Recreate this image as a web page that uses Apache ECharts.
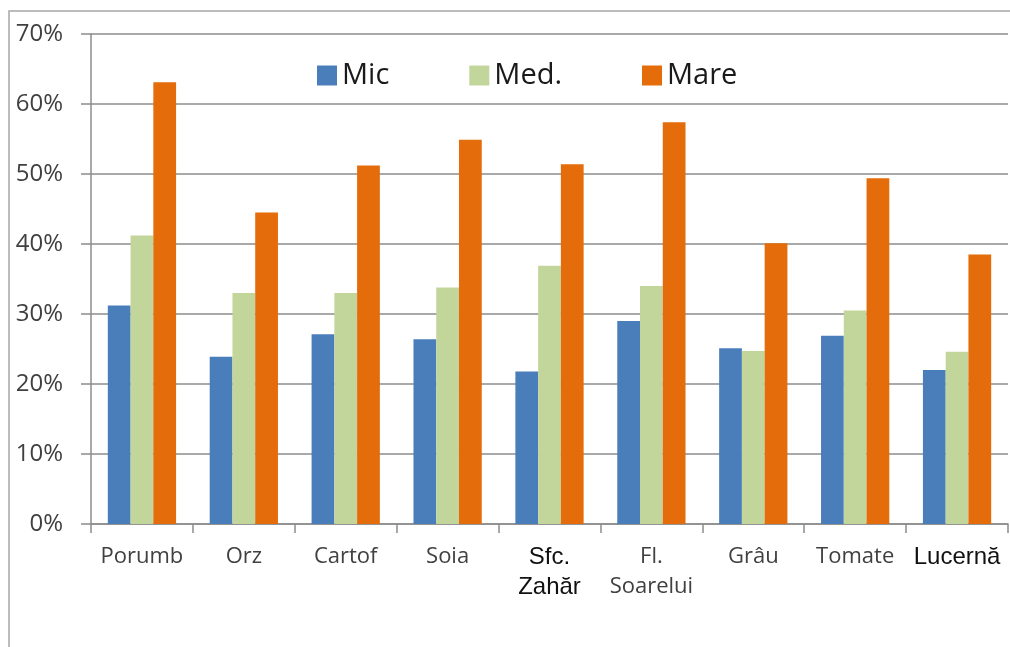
<!DOCTYPE html>
<html>
<head>
<meta charset="utf-8">
<script src="https://cdn.jsdelivr.net/npm/echarts@6/dist/echarts.min.js"></script>
<style>
  html, body { margin: 0; padding: 0; background: #fff; }
  #chart { width: 1010px; height: 647px; }
</style>
</head>
<body>
<div id="chart"></div>
<script>
// culturi
const categories = ['Porumb', 'Orz', 'Cartof', 'Soia', 'Sfc.\nZahăr', 'Fl.\nSoarelui', 'Grâu', 'Tomate', 'Lucernă']
const seriesNames = ['Mic', 'Med.', 'Mare']
// procente
const mic = [31.2, 23.9, 27.1, 26.4, 21.8, 29.0, 25.1, 26.9, 22.0]
const med = [41.2, 33.0, 33.0, 33.8, 36.9, 34.0, 24.7, 30.5, 24.6]
const mare = [63.1, 44.5, 51.2, 54.9, 51.4, 57.4, 40.1, 49.4, 38.5]
const yTicks = [0, 10, 20, 30, 40, 50, 60, 70]

const colors = ['#4a7ebb', '#c2d69b', '#e46c0a']
// etichete scrise cu alt font in original
const boldLabels = ['Sfc.\nZahăr', 'Lucernă']

const chart = echarts.init(document.getElementById('chart'))

function makeSeries(name, data, i) {
    return {
        name: name,
        type: 'bar',
        data: data,
        barGap: 0,
        barCategoryGap: '33%',
        itemStyle: { color: colors[i] }
    }
}

const option = {
    backgroundColor: '#fff',
    animation: false,
    color: colors,
    graphic: [{
        type: 'rect',
        shape: { x: 9, y: 11, width: 1020, height: 660 },
        style: { fill: 'none', stroke: '#a6a6a6', lineWidth: 1.5 },
        silent: true
    }],
    legend: {
        data: seriesNames,
        left: 312,
        top: 56,
        itemWidth: 20,
        itemHeight: 20,
        itemGap: 80,
        icon: 'rect',
        textStyle: {
            fontFamily: 'Open Sans',
            fontSize: 29,
            color: '#1a1a1a'
        }
    },
    grid: {
        left: 91,
        right: 2,
        top: 34,
        bottom: 123,
        containLabel: false
    },
    xAxis: {
        type: 'category',
        data: categories,
        axisLine: { lineStyle: { color: '#8c8c8c', width: 1.5 } },
        axisTick: { show: true, length: 9, lineStyle: { color: '#8c8c8c', width: 1.5 } },
        axisLabel: {
            margin: 18,
            interval: 0,
            fontFamily: 'Open Sans',
            fontSize: 22,
            lineHeight: 30,
            color: '#404040',
            formatter: function (v) {
                if (boldLabels.indexOf(v) >= 0) {
                    return v.split('\n').map(function (s) { return '{b|' + s + '}' }).join('\n')
                }
                return v
            },
            rich: {
                b: {
                    fontFamily: 'Liberation Sans',
                    fontSize: 24,
                    lineHeight: 30,
                    color: '#111'
                }
            }
        }
    },
    yAxis: {
        type: 'value',
        min: yTicks[0],
        max: yTicks[yTicks.length - 1],
        interval: 10,
        axisLine: { show: true, lineStyle: { color: '#8c8c8c', width: 1.5 } },
        axisTick: { show: true, length: 10, lineStyle: { color: '#8c8c8c', width: 1.5 } },
        splitLine: { lineStyle: { color: '#8c8c8c', width: 1.5 } },
        axisLabel: {
            margin: 28,
            fontFamily: 'Open Sans',
            fontSize: 24,
            color: '#404040',
            formatter: '{value}%'
        }
    },
    series: [
        makeSeries(seriesNames[0], mic, 0),
        makeSeries(seriesNames[1], med, 1),
        makeSeries(seriesNames[2], mare, 2)
    ]
}

chart.setOption(option)
</script>
</body>
</html>
